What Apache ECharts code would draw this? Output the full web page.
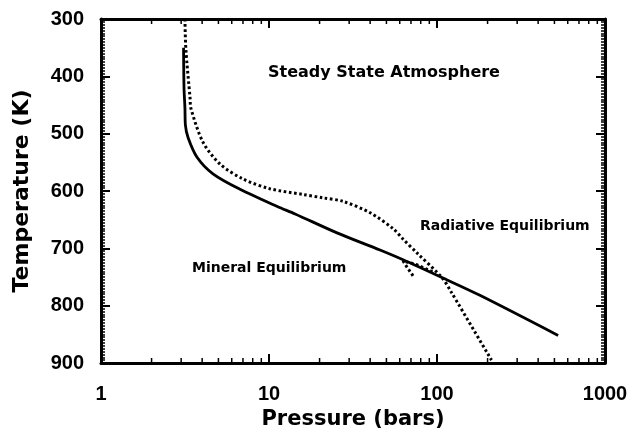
<!DOCTYPE html>
<html>
<head>
<meta charset="utf-8">
<script src="https://cdn.jsdelivr.net/npm/echarts@6/dist/echarts.min.js"></script>
<style>
html,body{margin:0;padding:0;background:#fff;}
#chart{width:635px;height:435px;}
</style>
</head>
<body>
<div id="chart"></div>
<script>
// ---- data ----
var mineralP = [3.1, 3.12, 3.16, 3.18, 3.3, 3.73, 4.64, 6.72, 11.2, 14.3, 25.4, 45.8, 62.8, 107, 180, 526];
var mineralT = [350, 420, 456, 485, 507, 541, 570, 597, 627, 640, 673, 703, 720, 751, 782, 852];

var radiativeP = [3.16, 3.2, 3.39, 3.43, 4.05, 5.11, 7.0, 10.1, 15.9, 21, 27.5, 40, 54.9, 62.8, 76, 107, 122, 211];
var radiativeT = [300, 353, 438, 456, 515, 553, 579, 596, 606, 612, 618, 638, 666, 684, 708, 751, 777, 895];

// small dotted hook near the crossing
var hookP = [72, 66, 62.8, 75, 97.5];
var hookT = [748, 732, 722, 728, 743];

var xTickLabels = ['1', '10', '100', '1000'];
var yTickValues = [300, 400, 500, 600, 700, 800, 900];
var xMinorTicks = [2,3,4,5,6,7,8,9,20,30,40,50,60,70,80,90,200,300,400,500,600,700,800,900];

var xTitle = 'Pressure (bars)';
var yTitle = 'Temperature (K)';
var annoSteady = 'Steady State Atmosphere';
var annoRad = 'Radiative Equilibrium';
var annoMin = 'Mineral Equilibrium';

function pairs(a, b) { return a.map(function (v, i) { return [v, b[i]]; }); }

var chart = echarts.init(document.getElementById('chart'), null, {renderer: 'canvas'});

var numFont = 'Liberation Sans';
var txtFont = 'DejaVu Sans';

var baseX = {
  type: 'log', logBase: 10, min: 1, max: 1000,
  axisLine: {show: true, onZero: false, lineStyle: {color: '#000', width: 3}},
  axisTick: {show: true, inside: true, length: 9, lineStyle: {color: '#000', width: 2}},
  splitLine: {show: false},
  minorTick: {show: false}
};
var baseY = {
  type: 'value', min: 300, max: 900, interval: 100, inverse: true,
  axisLine: {show: true, onZero: false, lineStyle: {color: '#000', width: 3}},
  axisTick: {show: true, inside: true, length: 9, lineStyle: {color: '#000', width: 2}},
  minorTick: {show: true, splitNumber: 20, length: 4, lineStyle: {color: '#000', width: 1.5}},
  splitLine: {show: false}
};

var option = {
  animation: false,
  backgroundColor: '#fff',
  grid: {left: 101, right: 30, top: 19, bottom: 65, containLabel: false},
  xAxis: [
    Object.assign({}, baseX, {
      position: 'bottom',
      name: xTitle, nameLocation: 'middle', nameGap: 46,
      nameTextStyle: {fontFamily: txtFont, fontWeight: 'bold', fontSize: 21, color: '#000'},
      axisLabel: {show: true, margin: 21, fontFamily: numFont, fontWeight: 'bold', fontSize: 20, color: '#000',
        formatter: function (v) { var s = String(Math.round(v)); return xTickLabels.indexOf(s) >= 0 ? s : ''; }}
    }),
    Object.assign({}, baseX, {position: 'top', axisLabel: {show: false}})
  ],
  yAxis: [
    Object.assign({}, baseY, {
      position: 'left',
      name: yTitle, nameLocation: 'middle', nameGap: 68, nameRotate: 90,
      nameTextStyle: {fontFamily: txtFont, fontWeight: 'bold', fontSize: 22, color: '#000'},
      axisLabel: {show: true, margin: 17, fontFamily: numFont, fontWeight: 'bold', fontSize: 20, color: '#000',
        formatter: function (v) { return yTickValues.indexOf(v) >= 0 ? String(v) : ''; }}
    }),
    Object.assign({}, baseY, {position: 'right', axisLabel: {show: false}})
  ],
  series: [
    {
      type: 'custom', xAxisIndex: 0, yAxisIndex: 0, silent: true, clip: false,
      data: xMinorTicks.map(function (v) { return [v, 900]; }),
      renderItem: function (params, api) {
        var v = api.value(0);
        var b = api.coord([v, 900]);
        var t = api.coord([v, 300]);
        return {type: 'group', children: [
          {type: 'line', shape: {x1: b[0], y1: b[1], x2: b[0], y2: b[1] - 5}, style: {stroke: '#000', lineWidth: 1.5}},
          {type: 'line', shape: {x1: t[0], y1: t[1], x2: t[0], y2: t[1] + 5}, style: {stroke: '#000', lineWidth: 1.5}}
        ]};
      }
    },
    {
      name: 'Mineral Equilibrium', type: 'line', xAxisIndex: 0, yAxisIndex: 0,
      data: pairs(mineralP, mineralT), showSymbol: false, smooth: 0.3,
      lineStyle: {color: '#000', width: 2.8}
    },
    {
      name: 'Radiative Equilibrium', type: 'line', xAxisIndex: 0, yAxisIndex: 0,
      data: pairs(radiativeP, radiativeT), showSymbol: false, smooth: 0.3,
      lineStyle: {color: '#000', width: 3, type: [2.6, 2.6]}
    },
    {
      name: 'hook', type: 'line', xAxisIndex: 0, yAxisIndex: 0,
      data: pairs(hookP, hookT), showSymbol: false,
      lineStyle: {color: '#000', width: 3, type: [2.6, 2.6]}
    }
  ],
  graphic: [
    {type: 'text', left: 268, top: 65, style: {text: annoSteady, font: 'bold 16px "DejaVu Sans"', fill: '#000'}},
    {type: 'text', left: 420, top: 219, style: {text: annoRad, font: 'bold 14px "DejaVu Sans"', fill: '#000'}},
    {type: 'text', left: 192, top: 261, style: {text: annoMin, font: 'bold 14px "DejaVu Sans"', fill: '#000'}}
  ]
};
chart.setOption(option);
</script>
</body>
</html>
